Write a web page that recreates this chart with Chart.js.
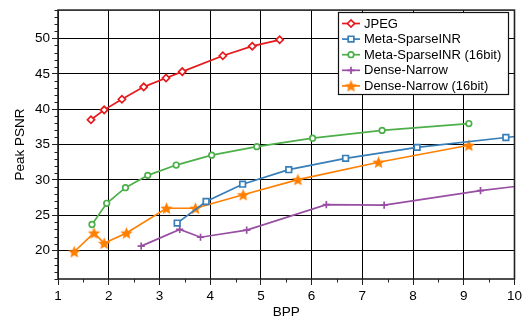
<!DOCTYPE html>
<html>
<head>
<meta charset="utf-8">
<script src="https://cdn.jsdelivr.net/npm/chart.js@4.4.1/dist/chart.umd.min.js"></script>
<style>
  body { margin:0; background:#fff; }
  #chart { display:block; }
</style>
</head>
<body>
<canvas id="chart" width="525" height="320"></canvas>
<script>
// values
const jpegX = [1.65, 1.91, 2.26, 2.69, 3.13, 3.45, 4.25, 4.83, 5.37];
const jpegY = [38.5, 39.9, 41.4, 43.15, 44.4, 45.3, 47.55, 48.9, 49.8];
const metaX = [3.35, 3.92, 4.64, 5.55, 6.67, 8.08, 9.83, 11.0];
const metaY = [23.9, 26.95, 29.4, 31.45, 33.05, 34.6, 36.0, 36.9];
const meta16X = [1.67, 1.96, 2.33, 2.77, 3.33, 4.03, 4.92, 6.02, 7.39, 9.10];
const meta16Y = [23.7, 26.7, 28.9, 30.65, 32.1, 33.5, 34.7, 35.9, 37.0, 37.97];
const denseX = [2.64, 3.40, 3.81, 4.72, 6.29, 7.43, 9.33, 11.0];
const denseY = [20.65, 23.0, 21.9, 22.9, 26.5, 26.45, 28.5, 29.9];
const dense16X = [1.32, 1.71, 1.91, 2.35, 3.14, 3.71, 4.65, 5.73, 7.32, 9.10];
const dense16Y = [19.85, 22.5, 21.05, 22.5, 26.0, 26.0, 27.9, 30.05, 32.5, 34.9];
const seriesNames = ['JPEG', 'Meta-SparseINR', 'Meta-SparseINR (16bit)', 'Dense-Narrow', 'Dense-Narrow (16bit)'];
const yTickValues = [20, 25, 30, 35, 40, 45, 50];

const FONT = "'Liberation Sans', Arial, sans-serif";
Chart.defaults.font.family = FONT;
Chart.defaults.color = '#000';

function pts(xs, ys){
  return xs.map(function(x, i){ return {x: x, y: ys[i]}; });
}

// filled five point star used as point style
function makeStar(color, r){
  const s = Math.ceil(r*2 + 2);
  const c = document.createElement('canvas');
  c.width = s; c.height = s;
  const g = c.getContext('2d');
  g.beginPath();
  for(let i=0; i<10; i++){
    const rad = i%2 == 0 ? r : r*0.45;
    const a = -Math.PI/2 + i*Math.PI/5;
    const px = s/2 + rad*Math.cos(a), py = s/2 + 0.6 + rad*Math.sin(a);
    if(i == 0) g.moveTo(px, py); else g.lineTo(px, py);
  }
  g.closePath();
  g.fillStyle = color;
  g.fill();
  return c;
}

const colors = ['#e41a1c', '#377eb8', '#4daf4a', '#984ea3', '#ff7f00'];
const star = makeStar(colors[4], 6.5);

function series(i, data, style, radius){
  return {
    label: seriesNames[i],
    data: data,
    borderColor: colors[i],
    backgroundColor: '#fff',
    borderWidth: 1.7,
    pointStyle: style,
    pointRadius: radius,
    pointBorderWidth: 1.7,
    pointBorderColor: colors[i],
    pointBackgroundColor: '#fff',
    tension: 0
  };
}

const datasets = [
  series(0, pts(jpegX, jpegY), 'rectRot', 3.6),
  series(1, pts(metaX, metaY), 'rect', 4),
  series(2, pts(meta16X, meta16Y), 'circle', 2.8),
  series(3, pts(denseX, denseY), 'cross', 3.6),
  series(4, pts(dense16X, dense16Y), star, 6.5)
];

// frame, minor ticks and the boxed legend
const extras = {
  id: 'extras',
  afterDraw(chart){
    const ctx = chart.ctx;
    const a = chart.chartArea;
    const xs = chart.scales.x, ys = chart.scales.y;
    ctx.save();
    ctx.strokeStyle = '#222';
    ctx.lineWidth = 1;
    ctx.beginPath();
    for(let v=1.5; v<10; v+=1){
      const px = Math.round(xs.getPixelForValue(v)) + 0.5;
      ctx.moveTo(px, a.bottom); ctx.lineTo(px, a.bottom + 3.5);
    }
    for(let v=16; v<=54; v++){
      if(v % 5 == 0) continue;
      const py = Math.round(ys.getPixelForValue(v)) + 0.5;
      ctx.moveTo(a.left, py); ctx.lineTo(a.left - 3.5, py);
    }
    ctx.stroke();
    ctx.lineWidth = 1.6;
    ctx.strokeRect(a.left, a.top, a.right - a.left, a.bottom - a.top);

    // legend
    const lx = 338.5, ly = 12.5, lw = 170, lh = 82;
    ctx.fillStyle = '#fff';
    ctx.fillRect(lx, ly, lw, lh);
    ctx.lineWidth = 1.2;
    ctx.strokeStyle = '#111';
    ctx.strokeRect(lx, ly, lw, lh);
    ctx.font = '13px ' + FONT;
    ctx.textBaseline = 'middle';
    for(let i=0; i<datasets.length; i++){
      const d = datasets[i];
      const ry = 23.5 + i*15.6;
      ctx.strokeStyle = d.borderColor;
      ctx.lineWidth = 1.7;
      ctx.beginPath();
      ctx.moveTo(342, ry); ctx.lineTo(360, ry);
      ctx.stroke();
      ctx.fillStyle = '#fff';
      Chart.helpers.drawPoint(ctx, {
        pointStyle: d.pointStyle,
        radius: d.pointRadius,
        borderWidth: d.pointBorderWidth,
        rotation: 0
      }, 351, ry);
      ctx.fillStyle = '#000';
      ctx.fillText(d.label, 364, ry + 0.5);
    }
    ctx.restore();
  }
};

const config = {
  type: 'line',
  data: { datasets: datasets },
  options: {
    responsive: false,
    animation: false,
    devicePixelRatio: 1,
    layout: { padding: { top: 5, right: 8, left: 0, bottom: 0 } },
    plugins: { legend: { display: false }, tooltip: { enabled: false } },
    scales: {
      x: {
        type: 'linear',
        min: 1, max: 10,
        ticks: { stepSize: 1, padding: 3, font: { size: 13.5 }, color: '#000', maxRotation: 0 },
        grid: {
          color: '#000', lineWidth: 1, borderDash: [1, 2],
          tickLength: 6, tickColor: '#222', tickBorderDash: [], tickWidth: 1
        },
        border: { display: false },
        title: { display: true, text: 'BPP', font: { size: 13.5 }, color: '#000', padding: { top: 0, bottom: 0 } },
        afterFit(scale){ scale.height = 41; }
      },
      y: {
        min: 16, max: 54,
        afterBuildTicks(scale){ scale.ticks = yTickValues.map(function(v){ return {value: v}; }); },
        ticks: { padding: 2, font: { size: 13.5 }, color: '#000' },
        grid: {
          color: '#000', lineWidth: 1, borderDash: [1, 2],
          tickLength: 6, tickColor: '#222', tickBorderDash: [], tickWidth: 1
        },
        border: { display: false },
        title: { display: true, text: 'Peak PSNR', font: { size: 13.5 }, color: '#000', padding: { top: 12, bottom: 0 } },
        afterFit(scale){ scale.width = 58; }
      }
    }
  },
  plugins: [extras]
};

const myChart = new Chart(document.getElementById('chart').getContext('2d'), config);
</script>
</body>
</html>
